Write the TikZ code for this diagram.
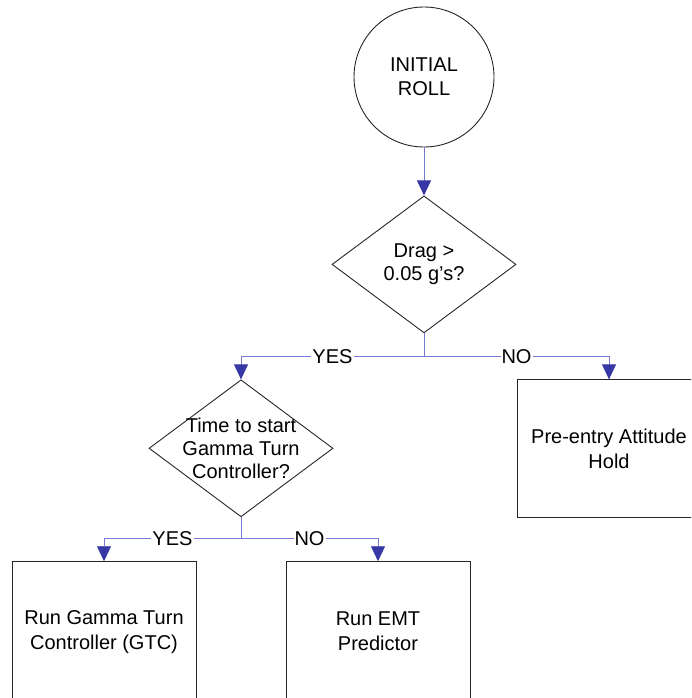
\documentclass[tikz,border=0pt]{standalone}
\usepackage{fontspec}
\setmainfont{Liberation Sans}
\usepackage{tikz}
\usetikzlibrary{shapes.geometric, arrows.meta, positioning}
\definecolor{flowline}{RGB}{120,120,215}
\definecolor{flowtip}{RGB}{55,55,165}
\tikzset{
    startstop/.style={circle, draw=black!85, line width=0.9pt, minimum size=140pt, inner sep=0pt,
                      align=center, font=\fontsize{20}{24}\selectfont},
    decision/.style={diamond, draw=black!85, line width=0.9pt, aspect=1.33, inner sep=0pt,
                     minimum width=184pt, minimum height=137pt, align=center,
                     font=\fontsize{20}{23}\selectfont},
    activity/.style={rectangle, draw=black!85, line width=0.9pt, minimum width=184pt,
                     minimum height=140pt, align=center, font=\fontsize{20}{25}\selectfont},
    flow/.style={draw=flowline, line width=0.8pt,
                 -{Triangle[length=15pt, width=14pt, color=flowtip]}},
    lbl/.style={font=\fontsize{20}{24}\selectfont, fill=white, inner sep=1pt},
}

\begin{document}
\begin{tikzpicture}[x=1pt, y=1pt]

    \useasboundingbox (0,0) rectangle (691,-698);
    \clip (0,0) rectangle (691,-698);

    % ── NODES ──
    \node[startstop] (roll) at (424,-77) {INITIAL\\ROLL};
    \node[decision, below=48pt of roll] (drag) {Drag >\\0.05 g’s?};
    \node[decision, inner sep=-8pt, below=46pt of drag, xshift=-183pt] (gamma)
        {Time to start\\Gamma Turn\\Controller?};
    \node[activity, minimum height=138pt, below=46pt of drag, xshift=185pt] (hold)
        {Pre-entry Attitude\\Hold};
    \node[activity, below=44pt of gamma, xshift=-137pt] (gtc) {Run Gamma Turn\\Controller (GTC)};
    \node[activity, below=44pt of gamma, xshift=137pt] (emt) {Run EMT\\Predictor};

    % ── CONNECTORS ──
    \draw[flow] (roll) -- (drag);

    \draw[flow] (drag.south) -- ++(0,-23) -| node[pos=0.25, lbl]{YES} (gamma.north);
    \draw[flow] (drag.south) -- ++(0,-23) -| node[pos=0.25, lbl]{NO} (hold.north);

    \draw[flow] (gamma.south) -- ++(0,-21) -| node[pos=0.25, lbl]{YES} (gtc.north);
    \draw[flow] (gamma.south) -- ++(0,-21) -| node[pos=0.25, lbl]{NO} (emt.north);

\end{tikzpicture}
\end{document}
